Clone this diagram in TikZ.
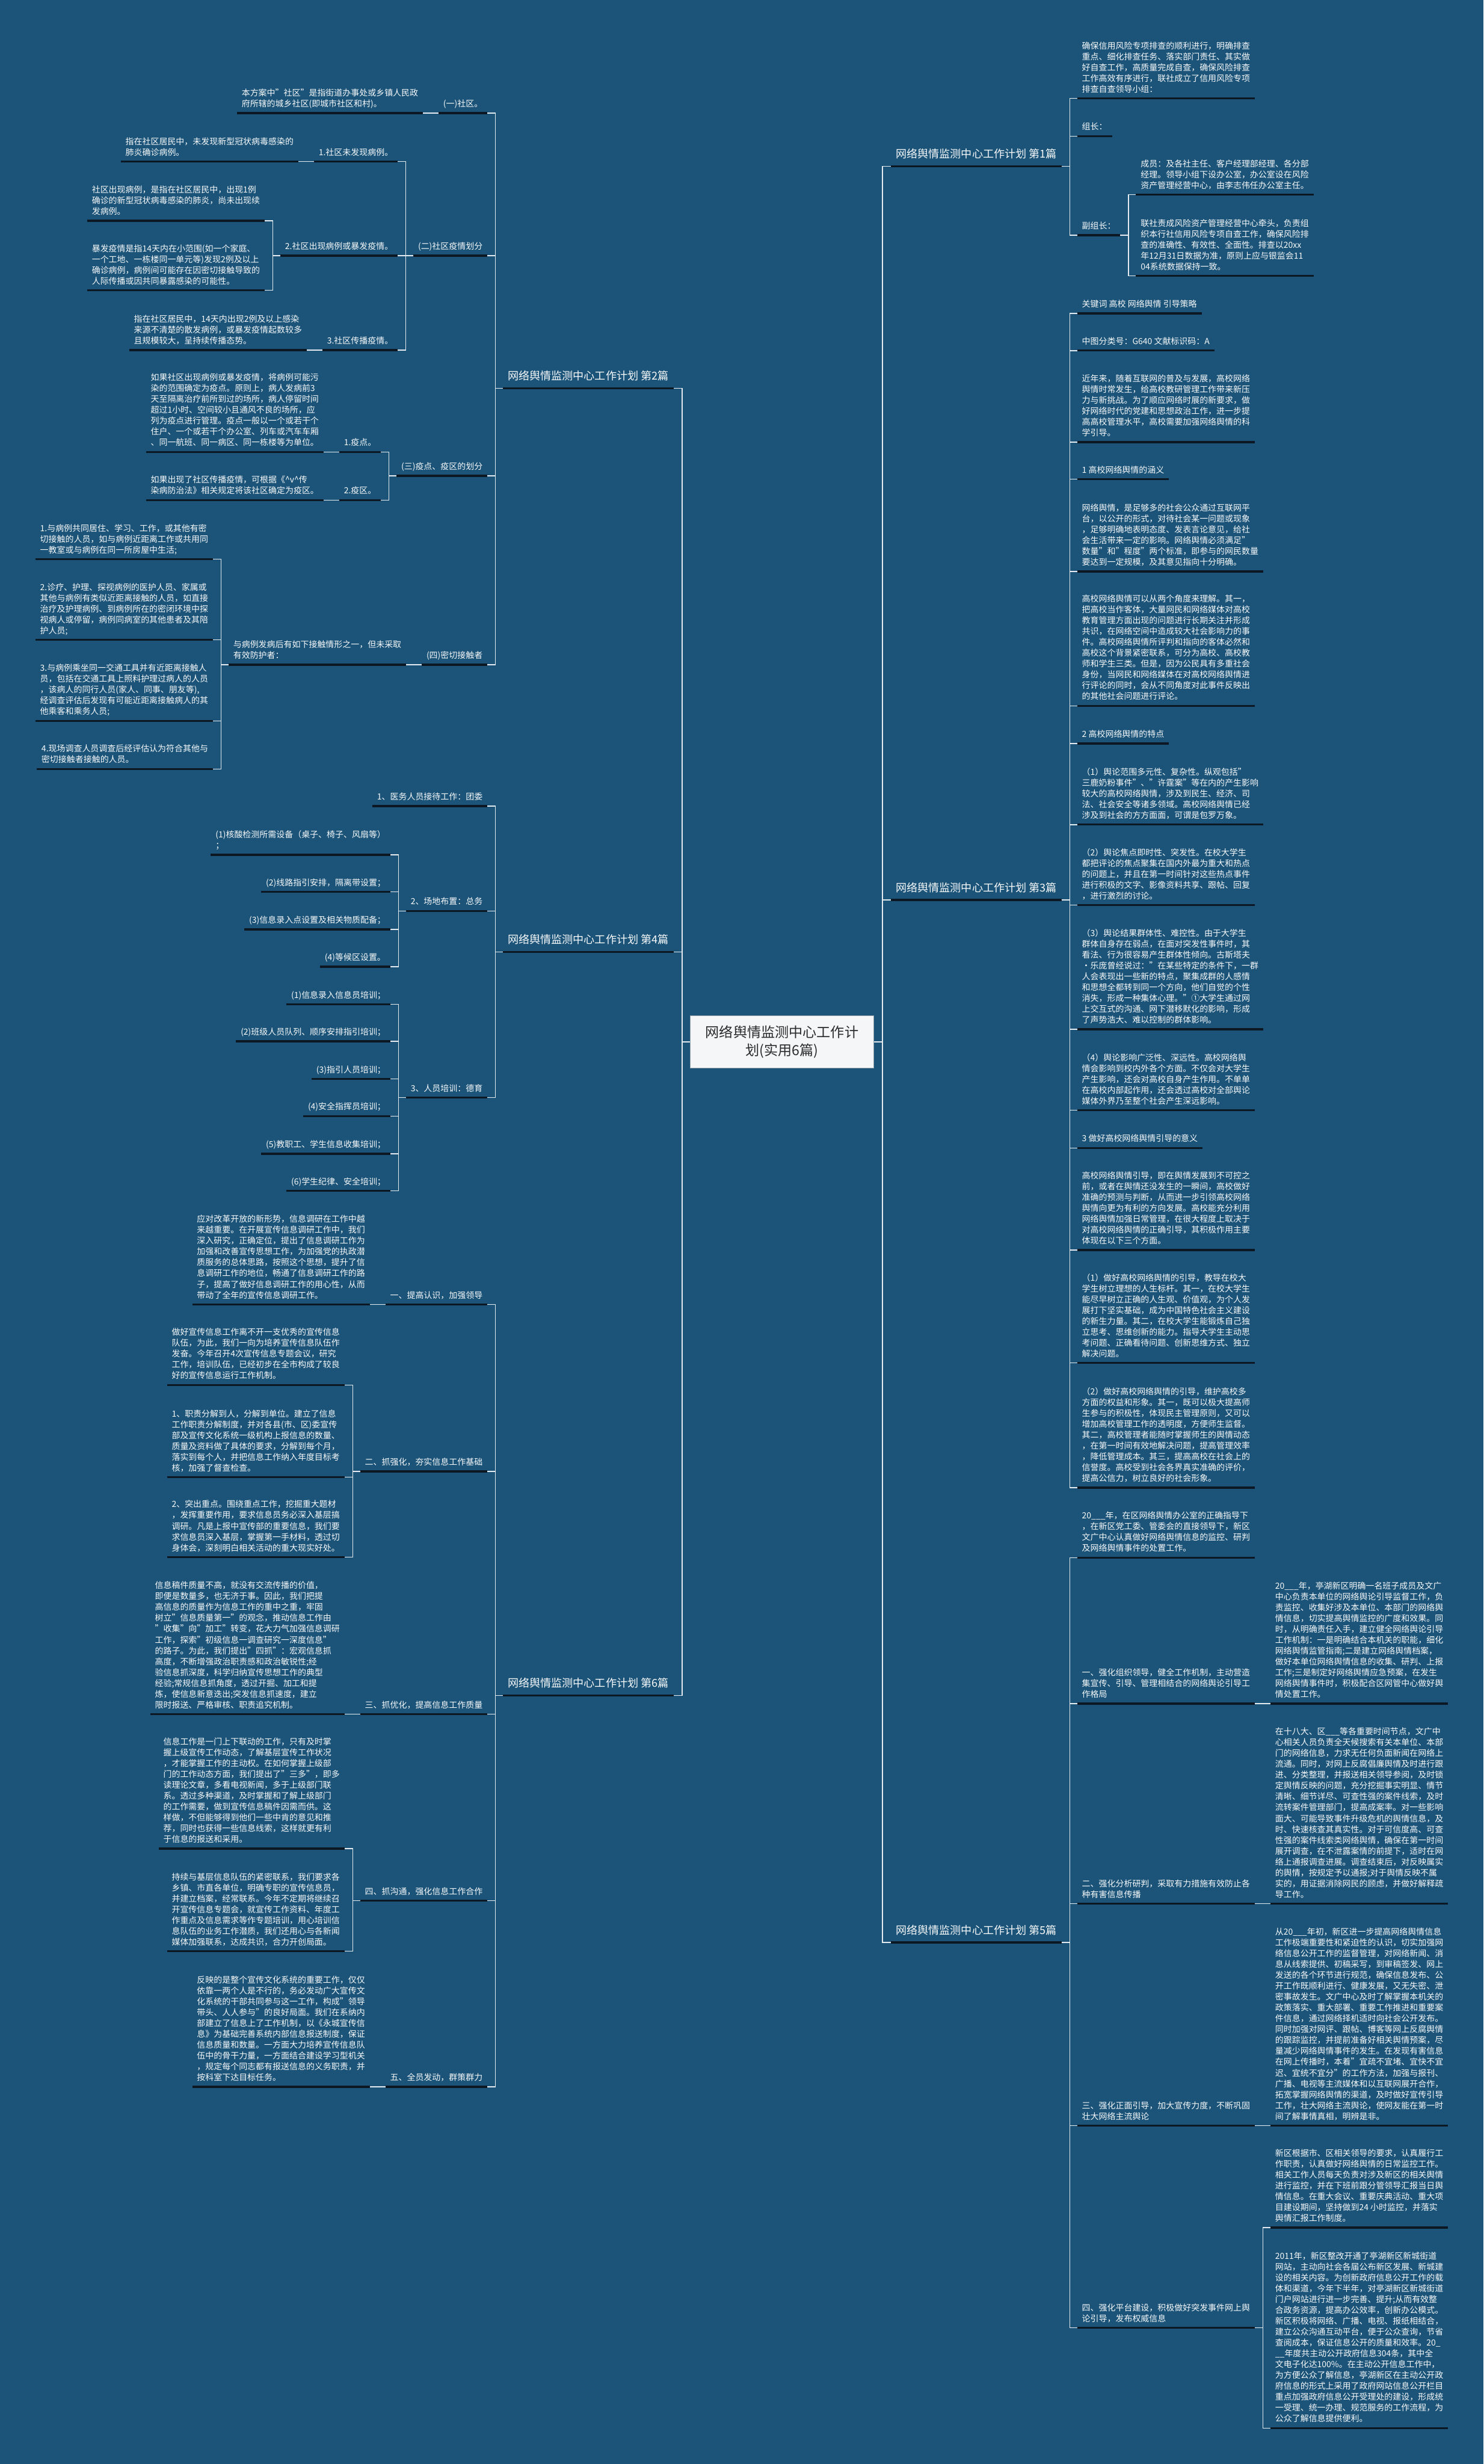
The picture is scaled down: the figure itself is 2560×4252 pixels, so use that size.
\documentclass[tikz,border=0pt]{standalone}
\usepackage{fontspec}
\setmainfont{Noto Sans CJK SC}
\usetikzlibrary{positioning}

\definecolor{bgblue}{HTML}{1B5478}
\definecolor{ulblack}{HTML}{0B1824}
\definecolor{lnwhite}{HTML}{E4EBF0}
\definecolor{txtwhite}{HTML}{F7F9FB}
\definecolor{ctrfill}{HTML}{F4F6F8}
\definecolor{ctrline}{HTML}{9AA6AF}
\definecolor{ctrtext}{HTML}{2B2B2B}

\newcommand\bodyfont{\fontsize{14.5pt}{18.7pt}\selectfont}
\newcommand\pianfont{\fontsize{18.8pt}{24pt}\selectfont}
\newcommand\ctrfont{\fontsize{24pt}{31pt}\selectfont}

\begin{document}
\begin{tikzpicture}[x=1pt, y=-1pt,
  uline/.style={draw=ulblack, line width=3.5pt},
  leaf/.style={align=left, text=txtwhite, font=\bodyfont, inner xsep=8pt, inner ysep=5pt,
    execute at end node=\strut,
    append after command={(\tikzlastnode.south west) edge[uline] (\tikzlastnode.south east)}},
  lleaf/.style={leaf, anchor=south east, xshift=-27pt},
  rleaf/.style={leaf, anchor=south west, xshift=27pt},
  lpian/.style={lleaf, font=\pianfont, inner ysep=7pt, xshift=-1pt},
  rpian/.style={rleaf, font=\pianfont, inner ysep=7pt, xshift=2pt},
  ctrnode/.style={rectangle, draw=ctrline, line width=1.5pt, fill=ctrfill, text=ctrtext, font=\ctrfont,
    align=center, minimum width=317pt, minimum height=90pt},
  lk/.style={draw=lnwhite, line width=1.5pt, to path={-- ++(-13,0) |- (\tikztotarget)}},
  rk/.style={draw=lnwhite, line width=1.5pt, to path={-- ++(14,0) |- (\tikztotarget)}}]

\fill[bgblue] (0,0) rectangle (2560,4252);
\useasboundingbox (0,0) rectangle (2560,4252);

% centre
\node[ctrnode] (ctr) at (1349.5,1798) {网络舆情监测中心工作计\\划(实用6篇)};

% ---------- left: 第2篇
\node[lpian] (p2) at (ctr.west |- 0,670) {网络舆情监测中心工作计划 第2篇};
\node[lleaf] (l2a) at (p2.south west |- 0,195) {(一)社区。};
\node[lleaf] (l2a1) at (l2a.south west |- 0,195) {本方案中"社区"是指街道办事处或乡镇人民政\\府所辖的城乡社区(即城市社区和村)。};
\node[lleaf] (l2b) at (p2.south west |- 0,441) {(二)社区疫情划分};
\node[lleaf] (l2b1) at (l2b.south west |- 0,279) {1.社区未发现病例。};
\node[lleaf] (l2b1a) at (l2b1.south west |- 0,279) {指在社区居民中，未发现新型冠状病毒感染的\\肺炎确诊病例。};
\node[lleaf] (l2b2) at (l2b.south west |- 0,441) {2.社区出现病例或暴发疫情。};
\node[lleaf] (l2b2a) at (l2b2.south west |- 0,381) {社区出现病例，是指在社区居民中，出现1例\\确诊的新型冠状病毒感染的肺炎，尚未出现续\\发病例。};
\node[lleaf] (l2b2b) at (l2b2.south west |- 0,501) {暴发疫情是指14天内在小范围(如一个家庭、\\一个工地、一栋楼同一单元等)发现2例及以上\\确诊病例，病例间可能存在因密切接触导致的\\人际传播或因共同暴露感染的可能性。};
\node[lleaf] (l2b3) at (l2b.south west |- 0,604) {3.社区传播疫情。};
\node[lleaf] (l2b3a) at (l2b3.south west |- 0,604) {指在社区居民中，14天内出现2例及以上感染\\来源不清楚的散发病例，或暴发疫情起数较多\\且规模较大，呈持续传播态势。};
\node[lleaf] (l2c) at (p2.south west |- 0,821) {(三)疫点、疫区的划分};
\node[lleaf] (l2c1) at (l2c.south west |- 0,780) {1.疫点。};
\node[lleaf] (l2c1a) at (l2c1.south west |- 0,780) {如果社区出现病例或暴发疫情，将病例可能污\\染的范围确定为疫点。原则上，病人发病前3\\天至隔离治疗前所到过的场所，病人停留时间\\超过1小时、空间较小且通风不良的场所，应\\列为疫点进行管理。疫点一般以一个或若干个\\住户、一个或若干个办公室、列车或汽车车厢\\、同一航班、同一病区、同一栋楼等为单位。};
\node[lleaf] (l2c2) at (l2c.south west |- 0,863) {2.疫区。};
\node[lleaf] (l2c2a) at (l2c2.south west |- 0,863) {如果出现了社区传播疫情，可根据《\textasciicircum v\textasciicircum 传\\染病防治法》相关规定将该社区确定为疫区。};
\node[lleaf] (l2d) at (p2.south west |- 0,1147) {(四)密切接触者};
\node[lleaf] (l2d1) at (l2d.south west |- 0,1147) {与病例发病后有如下接触情形之一，但未采取\\有效防护者：};
\node[lleaf] (l2d1a) at (l2d1.south west |- 0,965) {1.与病例共同居住、学习、工作，或其他有密\\切接触的人员，如与病例近距离工作或共用同\\一教室或与病例在同一所房屋中生活;};
\node[lleaf] (l2d1b) at (l2d1.south west |- 0,1104) {2.诊疗、护理、探视病例的医护人员、家属或\\其他与病例有类似近距离接触的人员，如直接\\治疗及护理病例、到病例所在的密闭环境中探\\视病人或停留，病例同病室的其他患者及其陪\\护人员;};
\node[lleaf] (l2d1c) at (l2d1.south west |- 0,1244) {3.与病例乘坐同一交通工具并有近距离接触人\\员，包括在交通工具上照料护理过病人的人员\\，该病人的同行人员(家人、同事、朋友等),\\经调查评估后发现有可能近距离接触病人的其\\他乘客和乘务人员;};
\node[lleaf] (l2d1d) at (l2d1.south west |- 0,1327) {4.现场调查人员调查后经评估认为符合其他与\\密切接触者接触的人员。};

% ---------- left: 第4篇
\node[lpian] (p4) at (ctr.west |- 0,1643) {网络舆情监测中心工作计划 第4篇};
\node[lleaf] (l4a) at (p4.south west |- 0,1391) {1、医务人员接待工作：团委};
\node[lleaf] (l4b) at (p4.south west |- 0,1572) {2、场地布置：总务};
\node[lleaf] (l4b1) at (l4b.south west |- 0,1475) {(1)核酸检测所需设备（桌子、椅子、风扇等）\\；};
\node[lleaf] (l4b2) at (l4b.south west |- 0,1539) {(2)线路指引安排，隔离带设置；};
\node[lleaf] (l4b3) at (l4b.south west |- 0,1604) {(3)信息录入点设置及相关物质配备；};
\node[lleaf] (l4b4) at (l4b.south west |- 0,1668) {(4)等候区设置。};
\node[lleaf] (l4c) at (p4.south west |- 0,1894) {3、人员培训：德育};
\node[lleaf] (l4c1) at (l4c.south west |- 0,1733) {(1)信息录入信息员培训；};
\node[lleaf] (l4c2) at (l4c.south west |- 0,1797) {(2)班级人员队列、顺序安排指引培训；};
\node[lleaf] (l4c3) at (l4c.south west |- 0,1862) {(3)指引人员培训；};
\node[lleaf] (l4c4) at (l4c.south west |- 0,1926) {(4)安全指挥员培训；};
\node[lleaf] (l4c5) at (l4c.south west |- 0,1991) {(5)教职工、学生信息收集培训；};
\node[lleaf] (l4c6) at (l4c.south west |- 0,2055) {(6)学生纪律、安全培训；};

% ---------- left: 第6篇
\node[lpian] (p6) at (ctr.west |- 0,2926) {网络舆情监测中心工作计划 第6篇};
\node[lleaf] (l6a) at (p6.south west |- 0,2251) {一、提高认识，加强领导};
\node[lleaf] (l6a1) at (l6a.south west |- 0,2251) {应对改革开放的新形势，信息调研在工作中越\\来越重要。在开展宣传信息调研工作中，我们\\深入研究，正确定位，提出了信息调研工作为\\加强和改善宣传思想工作，为加强党的执政潜\\质服务的总体思路，按照这个思想，提升了信\\息调研工作的地位，畅通了信息调研工作的路\\子，提高了做好信息调研工作的用心性，从而\\带动了全年的宣传信息调研工作。};
\node[lleaf] (l6b) at (p6.south west |- 0,2539) {二、抓强化，夯实信息工作基础};
\node[lleaf] (l6b1) at (l6b.south west |- 0,2390) {做好宣传信息工作离不开一支优秀的宣传信息\\队伍，为此，我们一向为培养宣传信息队伍作\\发奋。今年召开4次宣传信息专题会议，研究\\工作，培训队伍，已经初步在全市构成了较良\\好的宣传信息运行工作机制。};
\node[lleaf] (l6b2) at (l6b.south west |- 0,2549) {1、职责分解到人，分解到单位。建立了信息\\工作职责分解制度，并对各县(市、区)委宣传\\部及宣传文化系统一级机构上报信息的数量、\\质量及资料做了具体的要求，分解到每个月，\\落实到每个人，并把信息工作纳入年度目标考\\核，加强了督查检查。};
\node[lleaf] (l6b3) at (l6b.south west |- 0,2687) {2、突出重点。围绕重点工作，挖掘重大题材\\，发挥重要作用，要求信息员务必深入基层搞\\调研。凡是上报中宣传部的重要信息，我们要\\求信息员深入基层，掌握第一手材料，透过切\\身体会，深刻明白相关活动的重大现实好处。};
\node[lleaf] (l6c) at (p6.south west |- 0,2958) {三、抓优化，提高信息工作质量};
\node[lleaf] (l6c1) at (l6c.south west |- 0,2958) {信息稿件质量不高，就没有交流传播的价值，\\即便是数量多，也无济于事。因此，我们把提\\高信息的质量作为信息工作的重中之重，牢固\\树立"信息质量第一"的观念，推动信息工作由\\"收集"向"加工"转变，花大力气加强信息调研\\工作，探索"初级信息一调查研究一深度信息"\\的路子。为此，我们提出"四抓"：宏观信息抓\\高度，不断增强政治职责感和政治敏锐性;经\\验信息抓深度，科学归纳宣传思想工作的典型\\经验;常规信息抓角度，透过开掘、加工和提\\炼，使信息新意迭出;突发信息抓速度，建立\\限时报送、严格审核、职责追究机制。};
\node[lleaf] (l6d) at (p6.south west |- 0,3280) {四、抓沟通，强化信息工作合作};
\node[lleaf] (l6d1) at (l6d.south west |- 0,3190) {信息工作是一门上下联动的工作，只有及时掌\\握上级宣传工作动态，了解基层宣传工作状况\\，才能掌握工作的主动权。在如何掌握上级部\\门的工作动态方面，我们提出了"三多"，即多\\读理论文章，多看电视新闻，多于上级部门联\\系。透过多种渠道，及时掌握和了解上级部门\\的工作需要，做到宣传信息稿件因需而供。这\\样做，不但能够得到他们一些中肯的意见和推\\荐，同时也获得一些信息线索，这样就更有利\\于信息的报送和采用。};
\node[lleaf] (l6d2) at (l6d.south west |- 0,3367) {持续与基层信息队伍的紧密联系，我们要求各\\乡镇、市直各单位，明确专职的宣传信息员，\\并建立档案，经常联系。今年不定期将继续召\\开宣传信息专题会，就宣传工作资料、年度工\\作重点及信息需求等作专题培训，用心培训信\\息队伍的业务工作潜质，我们还用心与各新闻\\媒体加强联系，达成共识，合力开创局面。};
\node[lleaf] (l6e) at (p6.south west |- 0,3601) {五、全员发动，群策群力};
\node[lleaf] (l6e1) at (l6e.south west |- 0,3601) {反映的是整个宣传文化系统的重要工作，仅仅\\依靠一两个人是不行的，务必发动广大宣传文\\化系统的干部共同参与这一工作，构成"领导\\带头、人人参与"的良好局面。我们在系纳内\\部建立了信息上了工作机制，以《永城宣传信\\息》为基础完善系统内部信息报送制度，保证\\信息质量和数量。一方面大力培养宣传信息队\\伍中的骨干力量，一方面结合建设学习型机关\\，规定每个同志都有报送信息的义务职责，并\\按科室下达目标任务。};

% ---------- right: 第1篇
\node[rpian] (p1) at (ctr.east |- 0,287) {网络舆情监测中心工作计划 第1篇};
\node[rleaf] (r1a) at (p1.south east |- 0,170) {确保信用风险专项排查的顺利进行，明确排查\\重点、细化排查任务、落实部门责任、其实做\\好自查工作，高质量完成自查，确保风险排查\\工作高效有序进行，联社成立了信用风险专项\\排查自查领导小组：};
\node[rleaf] (r1b) at (p1.south east |- 0,235) {组长：};
\node[rleaf] (r1c) at (p1.south east |- 0,406) {副组长：};
\node[rleaf] (r1c1) at (r1c.south east |- 0,336) {成员：及各社主任、客户经理部经理、各分部\\经理。领导小组下设办公室，办公室设在风险\\资产管理经营中心，由李志伟任办公室主任。};
\node[rleaf] (r1c2) at (r1c.south east |- 0,476) {联社责成风险资产管理经营中心牵头，负责组\\织本行社信用风险专项自查工作，确保风险排\\查的准确性、有效性、全面性。排查以20xx\\年12月31日数据为准，原则上应与银监会11\\04系统数据保持一致。};

% ---------- right: 第3篇
\node[rpian] (p3) at (ctr.east |- 0,1553) {网络舆情监测中心工作计划 第3篇};
\node[rleaf] (r3a) at (p3.south east |- 0,541) {关键词 高校 网络舆情 引导策略};
\node[rleaf] (r3b) at (p3.south east |- 0,605) {中图分类号：G640 文献标识码：A};
\node[rleaf] (r3c) at (p3.south east |- 0,763) {近年来，随着互联网的普及与发展，高校网络\\舆情时常发生，给高校教研管理工作带来新压\\力与新挑战。为了顺应网络时展的新要求，做\\好网络时代的党建和思想政治工作，进一步提\\高高校管理水平，高校需要加强网络舆情的科\\学引导。};
\node[rleaf] (r3d) at (p3.south east |- 0,827) {1 高校网络舆情的涵义};
\node[rleaf] (r3e) at (p3.south east |- 0,986) {网络舆情，是足够多的社会公众通过互联网平\\台，以公开的形式，对待社会某一问题或现象\\，足够明确地表明态度、发表言论意见，给社\\会生活带来一定的影响。网络舆情必须满足"\\数量"和"程度"两个标准，即参与的网民数量\\要达到一定规模，及其意见指向十分明确。};
\node[rleaf] (r3f) at (p3.south east |- 0,1218) {高校网络舆情可以从两个角度来理解。其一，\\把高校当作客体，大量网民和网络媒体对高校\\教育管理方面出现的问题进行长期关注并形成\\共识，在网络空间中造成较大社会影响力的事\\件。高校网络舆情所评判和指向的客体必然和\\高校这个背景紧密联系，可分为高校、高校教\\师和学生三类。但是，因为公民具有多重社会\\身份，当网民和网络媒体在对高校网络舆情进\\行评论的同时，会从不同角度对此事件反映出\\的其他社会问题进行评论。};
\node[rleaf] (r3g) at (p3.south east |- 0,1283) {2 高校网络舆情的特点};
\node[rleaf] (r3h) at (p3.south east |- 0,1423) {（1）舆论范围多元性、复杂性。纵观包括"\\三鹿奶粉事件"、"许霆案"等在内的产生影响\\较大的高校网络舆情，涉及到民生、经济、司\\法、社会安全等诸多领域。高校网络舆情已经\\涉及到社会的方方面面，可谓是包罗万象。};
\node[rleaf] (r3i) at (p3.south east |- 0,1562) {（2）舆论焦点即时性、突发性。在校大学生\\都把评论的焦点聚集在国内外最为重大和热点\\的问题上，并且在第一时间针对这些热点事件\\进行积极的文字、影像资料共享、跟帖、回复\\，进行激烈的讨论。};
\node[rleaf] (r3j) at (p3.south east |- 0,1776) {（3）舆论结果群体性、难控性。由于大学生\\群体自身存在弱点，在面对突发性事件时，其\\看法、行为很容易产生群体性倾向。古斯塔夫\\·乐庞曾经说过："在某些特定的条件下，一群\\人会表现出一些新的特点，聚集成群的人感情\\和思想全都转到同一个方向，他们自觉的个性\\消失，形成一种集体心理。"①大学生通过网\\上交互式的沟通、网下潜移默化的影响，形成\\了声势浩大、难以控制的群体影响。};
\node[rleaf] (r3k) at (p3.south east |- 0,1916) {（4）舆论影响广泛性、深远性。高校网络舆\\情会影响到校内外各个方面。不仅会对大学生\\产生影响，还会对高校自身产生作用。不单单\\在高校内部起作用，还会透过高校对全部舆论\\媒体外界乃至整个社会产生深远影响。};
\node[rleaf] (r3l) at (p3.south east |- 0,1981) {3 做好高校网络舆情引导的意义};
\node[rleaf] (r3m) at (p3.south east |- 0,2157) {高校网络舆情引导，即在舆情发展到不可控之\\前，或者在舆情还没发生的一瞬间，高校做好\\准确的预测与判断，从而进一步引领高校网络\\舆情向更为有利的方向发展。高校能充分利用\\网络舆情加强日常管理，在很大程度上取决于\\对高校网络舆情的正确引导，其积极作用主要\\体现在以下三个方面。};
\node[rleaf] (r3n) at (p3.south east |- 0,2352) {（1）做好高校网络舆情的引导，教导在校大\\学生树立理想的人生标杆。其一，在校大学生\\能尽早树立正确的人生观、价值观，为个人发\\展打下坚实基础，成为中国特色社会主义建设\\的新生力量。其二，在校大学生能锻炼自己独\\立思考、思维创新的能力。指导大学生主动思\\考问题、正确看待问题、创新思维方式、独立\\解决问题。};
\node[rleaf] (r3o) at (p3.south east |- 0,2567) {（2）做好高校网络舆情的引导，维护高校多\\方面的权益和形象。其一，既可以极大提高师\\生参与的积极性，体现民主管理原则，又可以\\增加高校管理工作的透明度，方便师生监督。\\其二，高校管理者能随时掌握师生的舆情动态\\，在第一时间有效地解决问题，提高管理效率\\，降低管理成本。其三，提高高校在社会上的\\信誉度。高校受到社会各界真实准确的评价，\\提高公信力，树立良好的社会形象。};

% ---------- right: 第5篇
\node[rpian] (p5) at (ctr.east |- 0,3352) {网络舆情监测中心工作计划 第5篇};
\node[rleaf] (r5a) at (p5.south east |- 0,2688) {20\_\_\_年，在区网络舆情办公室的正确指导下\\，在新区党工委、管委会的直接领导下，新区\\文广中心认真做好网络舆情信息的监控、研判\\及网络舆情事件的处置工作。};
\node[rleaf] (r5b) at (p5.south east |- 0,2940) {一、强化组织领导，健全工作机制，主动营造\\集宣传、引导、管理相结合的网络舆论引导工\\作格局};
\node[rleaf] (r5b1) at (r5b.south east |- 0,2940) {20\_\_\_年，亭湖新区明确一名班子成员及文广\\中心负责本单位的网络舆论引导监督工作，负\\责监控、收集好涉及本单位、本部门的网络舆\\情信息，切实提高舆情监控的广度和效果。同\\时，从明确责任入手，建立健全网络舆论引导\\工作机制：一是明确结合本机关的职能，细化\\网络舆情监管指南;二是建立网络舆情档案，\\做好本单位网络舆情信息的收集、研判、上报\\工作;三是制定好网络舆情应急预案，在发生\\网络舆情事件时，积极配合区网管中心做好舆\\情处置工作。};
\node[rleaf] (r5c) at (p5.south east |- 0,3285) {二、强化分析研判，采取有力措施有效防止各\\种有害信息传播};
\node[rleaf] (r5c1) at (r5c.south east |- 0,3285) {在十八大、区\_\_\_等各重要时间节点，文广中\\心相关人员负责全天候搜索有关本单位、本部\\门的网络信息，力求无任何负面新闻在网络上\\流通。同时，对网上反腐倡廉舆情及时进行跟\\进、分类整理，并报送相关领导参阅，及时锁\\定舆情反映的问题，充分挖掘事实明显、情节\\清晰、细节详尽、可查性强的案件线索，及时\\流转案件管理部门，提高成案率。对一些影响\\面大、可能导致事件升级危机的舆情信息，及\\时、快速核查其真实性。对于可信度高、可查\\性强的案件线索类网络舆情，确保在第一时间\\展开调查，在不泄露案情的前提下，适时在网\\络上通报调查进展。调查结束后，对反映属实\\的舆情，按规定予以通报;对于舆情反映不属\\实的，用证据消除网民的顾虑，并做好解释疏\\导工作。};
\node[rleaf] (r5d) at (p5.south east |- 0,3668) {三、强化正面引导，加大宣传力度，不断巩固\\壮大网络主流舆论};
\node[rleaf] (r5d1) at (r5d.south east |- 0,3668) {从20\_\_\_年初，新区进一步提高网络舆情信息\\工作极端重要性和紧迫性的认识，切实加强网\\络信息公开工作的监督管理，对网络新闻、消\\息从线索提供、初稿采写，到审稿签发、网上\\发送的各个环节进行规范，确保信息发布、公\\开工作既顺利进行、健康发展，又无失密、泄\\密事故发生。文广中心及时了解掌握本机关的\\政策落实、重大部署、重要工作推进和重要案\\件信息，通过网络择机适时向社会公开发布。\\同时加强对网评、跟帖、博客等网上反腐舆情\\的跟踪监控，并提前准备好相关舆情预案，尽\\量减少网络舆情事件的发生。在发现有害信息\\在网上传播时，本着"宜疏不宜堵、宜快不宜\\迟、宜统不宜分"的工作方法，加强与报刊、\\广播、电视等主流媒体和以互联网展开合作，\\拓宽掌握网络舆情的渠道，及时做好宣传引导\\工作，壮大网络主流舆论，使网友能在第一时\\间了解事情真相，明辨是非。};
\node[rleaf] (r5e) at (p5.south east |- 0,4017) {四、强化平台建设，积极做好突发事件网上舆\\论引导，发布权威信息};
\node[rleaf] (r5e1) at (r5e.south east |- 0,3844) {新区根据市、区相关领导的要求，认真履行工\\作职责，认真做好网络舆情的日常监控工作。\\相关工作人员每天负责对涉及新区的相关舆情\\进行监控，并在下班前跟分管领导汇报当日舆\\情信息。在重大会议、重要庆典活动、重大项\\目建设期间，坚持做到24 小时监控，并落实\\舆情汇报工作制度。};
\node[rleaf] (r5e2) at (r5e.south east |- 0,4190) {2011年，新区整改开通了亭湖新区新城街道\\网站，主动向社会各届公布新区发展、新城建\\设的相关内容。为创新政府信息公开工作的载\\体和渠道，今年下半年，对亭湖新区新城街道\\门户网站进行进一步完善、提升;从而有效整\\合政务资源，提高办公效率，创新办公模式。\\新区积极将网络、广播、电视、报纸相结合，\\建立公众沟通互动平台，便于公众查询，节省\\查阅成本，保证信息公开的质量和效率。20\_\\\_\_年度共主动公开政府信息304条，其中全\\文电子化达100\%。在主动公开信息工作中，\\为方便公众了解信息，亭湖新区在主动公开政\\府信息的形式上采用了政府网站信息公开栏目\\重点加强政府信息公开受理处的建设，形成统\\一受理、统一办理、规范服务的工作流程，为\\公众了解信息提供便利。};

% connectors
\path
  (ctr.west) edge[lk] (p2.south east)
  (ctr.west) edge[lk] (p4.south east)
  (ctr.west) edge[lk] (p6.south east)
  (ctr.east) edge[rk] (p1.south west)
  (ctr.east) edge[rk] (p3.south west)
  (ctr.east) edge[rk] (p5.south west);
\path
  (p2.south west) edge[lk] (l2a.south east)
  (p2.south west) edge[lk] (l2b.south east)
  (p2.south west) edge[lk] (l2c.south east)
  (p2.south west) edge[lk] (l2d.south east)
  (l2a.south west) edge[lk] (l2a1.south east)
  (l2b.south west) edge[lk] (l2b1.south east)
  (l2b.south west) edge[lk] (l2b2.south east)
  (l2b.south west) edge[lk] (l2b3.south east)
  (l2b1.south west) edge[lk] (l2b1a.south east)
  (l2b2.south west) edge[lk] (l2b2a.south east)
  (l2b2.south west) edge[lk] (l2b2b.south east)
  (l2b3.south west) edge[lk] (l2b3a.south east)
  (l2c.south west) edge[lk] (l2c1.south east)
  (l2c.south west) edge[lk] (l2c2.south east)
  (l2c1.south west) edge[lk] (l2c1a.south east)
  (l2c2.south west) edge[lk] (l2c2a.south east)
  (l2d.south west) edge[lk] (l2d1.south east)
  (l2d1.south west) edge[lk] (l2d1a.south east)
  (l2d1.south west) edge[lk] (l2d1b.south east)
  (l2d1.south west) edge[lk] (l2d1c.south east)
  (l2d1.south west) edge[lk] (l2d1d.south east);
\path
  (p4.south west) edge[lk] (l4a.south east)
  (p4.south west) edge[lk] (l4b.south east)
  (p4.south west) edge[lk] (l4c.south east)
  (l4b.south west) edge[lk] (l4b1.south east)
  (l4b.south west) edge[lk] (l4b2.south east)
  (l4b.south west) edge[lk] (l4b3.south east)
  (l4b.south west) edge[lk] (l4b4.south east)
  (l4c.south west) edge[lk] (l4c1.south east)
  (l4c.south west) edge[lk] (l4c2.south east)
  (l4c.south west) edge[lk] (l4c3.south east)
  (l4c.south west) edge[lk] (l4c4.south east)
  (l4c.south west) edge[lk] (l4c5.south east)
  (l4c.south west) edge[lk] (l4c6.south east);
\path
  (p6.south west) edge[lk] (l6a.south east)
  (p6.south west) edge[lk] (l6b.south east)
  (p6.south west) edge[lk] (l6c.south east)
  (p6.south west) edge[lk] (l6d.south east)
  (p6.south west) edge[lk] (l6e.south east)
  (l6a.south west) edge[lk] (l6a1.south east)
  (l6b.south west) edge[lk] (l6b1.south east)
  (l6b.south west) edge[lk] (l6b2.south east)
  (l6b.south west) edge[lk] (l6b3.south east)
  (l6c.south west) edge[lk] (l6c1.south east)
  (l6d.south west) edge[lk] (l6d1.south east)
  (l6d.south west) edge[lk] (l6d2.south east)
  (l6e.south west) edge[lk] (l6e1.south east);
\path
  (p1.south east) edge[rk] (r1a.south west)
  (p1.south east) edge[rk] (r1b.south west)
  (p1.south east) edge[rk] (r1c.south west)
  (r1c.south east) edge[rk] (r1c1.south west)
  (r1c.south east) edge[rk] (r1c2.south west);
\path
  (p3.south east) edge[rk] (r3a.south west)
  (p3.south east) edge[rk] (r3b.south west)
  (p3.south east) edge[rk] (r3c.south west)
  (p3.south east) edge[rk] (r3d.south west)
  (p3.south east) edge[rk] (r3e.south west)
  (p3.south east) edge[rk] (r3f.south west)
  (p3.south east) edge[rk] (r3g.south west)
  (p3.south east) edge[rk] (r3h.south west)
  (p3.south east) edge[rk] (r3i.south west)
  (p3.south east) edge[rk] (r3j.south west)
  (p3.south east) edge[rk] (r3k.south west)
  (p3.south east) edge[rk] (r3l.south west)
  (p3.south east) edge[rk] (r3m.south west)
  (p3.south east) edge[rk] (r3n.south west)
  (p3.south east) edge[rk] (r3o.south west);
\path
  (p5.south east) edge[rk] (r5a.south west)
  (p5.south east) edge[rk] (r5b.south west)
  (p5.south east) edge[rk] (r5c.south west)
  (p5.south east) edge[rk] (r5d.south west)
  (p5.south east) edge[rk] (r5e.south west)
  (r5b.south east) edge[rk] (r5b1.south west)
  (r5c.south east) edge[rk] (r5c1.south west)
  (r5d.south east) edge[rk] (r5d1.south west)
  (r5e.south east) edge[rk] (r5e1.south west)
  (r5e.south east) edge[rk] (r5e2.south west);
\end{tikzpicture}
\end{document}
